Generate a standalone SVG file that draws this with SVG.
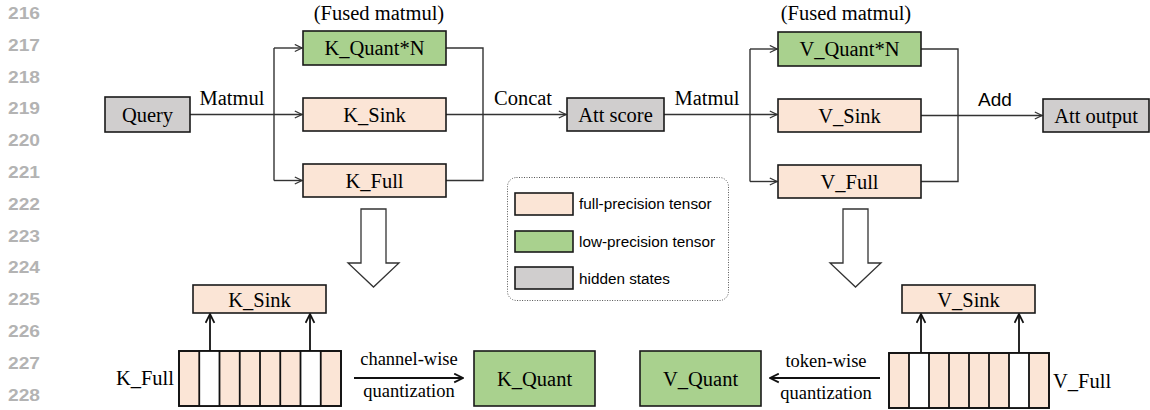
<svg xmlns="http://www.w3.org/2000/svg" width="1150" height="410" viewBox="0 0 1150 410">
<style>
.ln{font-family:"Liberation Sans",Arial,sans-serif;font-weight:bold;font-size:16px;fill:#b3b3b3}
.t{font-family:"Liberation Serif","Times New Roman",serif;font-size:20.5px;fill:#000}
.s{font-family:"Liberation Serif","Times New Roman",serif;font-size:18.5px;fill:#000}
.lg{font-family:"Liberation Sans",Arial,sans-serif;font-size:15.3px;fill:#000}
.full{fill:#fbe5d6;stroke:#1a1a1a;stroke-width:1.6}
.low{fill:#a9d18e;stroke:#1a1a1a;stroke-width:1.6}
.hid{fill:#d0cece;stroke:#1a1a1a;stroke-width:1.6}
.c{fill:none;stroke:#333;stroke-width:1.4}
.cb{fill:none;stroke:#111;stroke-width:1.8}
.big{fill:#fff;stroke:#333;stroke-width:1.3}
</style>
<defs>
<marker id="a" viewBox="0 0 10 10" refX="9" refY="5" markerWidth="9" markerHeight="9" markerUnits="userSpaceOnUse" orient="auto">
<path d="M1,1 L9,5 L1,9" fill="none" stroke="#333" stroke-width="1.3"/>
</marker>
<marker id="b" viewBox="0 0 10 10" refX="9" refY="5" markerWidth="11" markerHeight="11" markerUnits="userSpaceOnUse" orient="auto">
<path d="M1,1 L9,5 L1,9" fill="none" stroke="#111" stroke-width="1.6"/>
</marker>
</defs>
<rect width="1150" height="410" fill="#fff"/>
<g id="line-numbers">
<text class="ln" x="8" y="19" textLength="32" lengthAdjust="spacingAndGlyphs">216</text>
<text class="ln" x="8" y="50.8" textLength="32" lengthAdjust="spacingAndGlyphs">217</text>
<text class="ln" x="8" y="82.6" textLength="32" lengthAdjust="spacingAndGlyphs">218</text>
<text class="ln" x="8" y="114.4" textLength="32" lengthAdjust="spacingAndGlyphs">219</text>
<text class="ln" x="8" y="146.2" textLength="32" lengthAdjust="spacingAndGlyphs">220</text>
<text class="ln" x="8" y="178" textLength="32" lengthAdjust="spacingAndGlyphs">221</text>
<text class="ln" x="8" y="209.8" textLength="32" lengthAdjust="spacingAndGlyphs">222</text>
<text class="ln" x="8" y="241.6" textLength="32" lengthAdjust="spacingAndGlyphs">223</text>
<text class="ln" x="8" y="273.4" textLength="32" lengthAdjust="spacingAndGlyphs">224</text>
<text class="ln" x="8" y="305.2" textLength="32" lengthAdjust="spacingAndGlyphs">225</text>
<text class="ln" x="8" y="337" textLength="32" lengthAdjust="spacingAndGlyphs">226</text>
<text class="ln" x="8" y="368.8" textLength="32" lengthAdjust="spacingAndGlyphs">227</text>
<text class="ln" x="8" y="400.6" textLength="32" lengthAdjust="spacingAndGlyphs">228</text>
</g>
<g id="connectors">
<path class="c" d="M190,114.5 H302" marker-end="url(#a)"/>
<path class="c" d="M274,48 V180.5"/>
<path class="c" d="M274,48 H302" marker-end="url(#a)"/>
<path class="c" d="M274,180.5 H302" marker-end="url(#a)"/>
<path class="c" d="M446,48 H483 V180.5 H446"/>
<path class="c" d="M446,114.5 H566" marker-end="url(#a)"/>
<path class="c" d="M664,114.5 H777" marker-end="url(#a)"/>
<path class="c" d="M750,49 V181.5"/>
<path class="c" d="M750,49 H777" marker-end="url(#a)"/>
<path class="c" d="M750,181.5 H777" marker-end="url(#a)"/>
<path class="c" d="M921,49 H958 V181.5 H921"/>
<path class="c" d="M921,115.5 H1042" marker-end="url(#a)"/>
<path class="cb" d="M210,351 V314" marker-end="url(#b)"/>
<path class="cb" d="M310,351 V314" marker-end="url(#b)"/>
<path class="cb" d="M921,353 V314" marker-end="url(#b)"/>
<path class="cb" d="M1019,353 V314" marker-end="url(#b)"/>
<path class="cb" d="M354,378 H463" marker-end="url(#b)"/>
<path class="cb" d="M880,378 H770" marker-end="url(#b)"/>
<polygon class="big" points="361,209 386,209 386,263 399,263 373.5,287 348,263 361,263"/>
<polygon class="big" points="843,209 868,209 868,263 881,263 855.5,287 830,263 843,263"/>
<text class="t" x="232" y="105" text-anchor="middle">Matmul</text>
<text class="t" x="523" y="105" text-anchor="middle">Concat</text>
<text class="t" x="707" y="105" text-anchor="middle">Matmul</text>
<text x="995" y="106" text-anchor="middle" style="font-family:'Liberation Sans',Arial,sans-serif;font-size:19px">Add</text>
<text class="s" x="409" y="365" text-anchor="middle">channel-wise</text>
<text class="s" x="409" y="397" text-anchor="middle">quantization</text>
<text class="s" x="826" y="367" text-anchor="middle">token-wise</text>
<text class="s" x="826" y="399" text-anchor="middle">quantization</text>
</g>
<g id="query"><rect class="hid" x="105" y="97" width="85" height="35"/><text class="t" x="147.5" y="121.5" text-anchor="middle">Query</text></g>
<g id="k-fused-label"><text class="t" x="379" y="20" text-anchor="middle">(Fused matmul)</text></g>
<g id="k-quant-n"><rect class="low" x="303" y="31" width="143" height="34"/><text class="t" x="374.5" y="55" text-anchor="middle">K_Quant*N</text></g>
<g id="k-sink"><rect class="full" x="303" y="98" width="143" height="33"/><text class="t" x="374.5" y="121.5" text-anchor="middle">K_Sink</text></g>
<g id="k-full"><rect class="full" x="303" y="164" width="143" height="33"/><text class="t" x="374.5" y="187.5" text-anchor="middle">K_Full</text></g>
<g id="att-score"><rect class="hid" x="567" y="98" width="97" height="33"/><text class="t" x="615.5" y="121.5" text-anchor="middle">Att score</text></g>
<g id="v-fused-label"><text class="t" x="846" y="20" text-anchor="middle">(Fused matmul)</text></g>
<g id="v-quant-n"><rect class="low" x="778" y="32" width="143" height="34"/><text class="t" x="849.5" y="56" text-anchor="middle">V_Quant*N</text></g>
<g id="v-sink"><rect class="full" x="778" y="99" width="143" height="33"/><text class="t" x="849.5" y="122.5" text-anchor="middle">V_Sink</text></g>
<g id="v-full"><rect class="full" x="778" y="165" width="143" height="33"/><text class="t" x="849.5" y="188.5" text-anchor="middle">V_Full</text></g>
<g id="att-output"><rect class="hid" x="1043" y="99" width="106" height="33"/><text class="t" x="1096" y="122.5" text-anchor="middle">Att output</text></g>
<g id="legend">
<rect x="507.5" y="177.5" width="221" height="123" rx="9" fill="#fff" stroke="#555" stroke-width="1" stroke-dasharray="1,1.5"/>
<rect class="full" x="515" y="193" width="58" height="22"/>
<text class="lg" x="579" y="209">full-precision tensor</text>
<rect class="low" x="515" y="231" width="58" height="21"/>
<text class="lg" x="579" y="247">low-precision tensor</text>
<rect class="hid" x="515" y="267" width="58" height="22"/>
<text class="lg" x="579" y="284">hidden states</text>
</g>
<g id="k-sink-bottom"><rect class="full" x="193" y="285" width="133" height="28"/><text class="t" x="259.5" y="306.5" text-anchor="middle">K_Sink</text></g>
<g id="k-full-bottom">
<text class="t" x="174" y="385" text-anchor="end">K_Full</text>
<rect class="full" x="179" y="351" width="162" height="55"/>
<rect x="199.25" y="351" width="20.25" height="55" fill="#fff"/>
<rect x="300.5" y="351" width="20.25" height="55" fill="#fff"/>
<rect x="179" y="351" width="162" height="55" fill="none" stroke="#111" stroke-width="1.8"/>
<path d="M199.25,351V406M219.5,351V406M239.75,351V406M260,351V406M280.25,351V406M300.5,351V406M320.75,351V406" stroke="#111" stroke-width="1.8"/>
</g>
<g id="k-quant"><rect class="low" x="474" y="351" width="121" height="55"/><text class="t" x="534.5" y="386" text-anchor="middle">K_Quant</text></g>
<g id="v-quant"><rect class="low" x="640" y="351" width="121" height="55"/><text class="t" x="700.5" y="386" text-anchor="middle">V_Quant</text></g>
<g id="v-sink-bottom"><rect class="full" x="902" y="285" width="133" height="28"/><text class="t" x="968.5" y="306.5" text-anchor="middle">V_Sink</text></g>
<g id="v-full-bottom">
<text class="t" x="1053" y="388">V_Full</text>
<rect class="full" x="889" y="353" width="160" height="55"/>
<rect x="909" y="353" width="20" height="55" fill="#fff"/>
<rect x="1009" y="353" width="20" height="55" fill="#fff"/>
<rect x="889" y="353" width="160" height="55" fill="none" stroke="#111" stroke-width="1.8"/>
<path d="M909,353V408M929,353V408M949,353V408M969,353V408M989,353V408M1009,353V408M1029,353V408" stroke="#111" stroke-width="1.8"/>
</g>
</svg>
